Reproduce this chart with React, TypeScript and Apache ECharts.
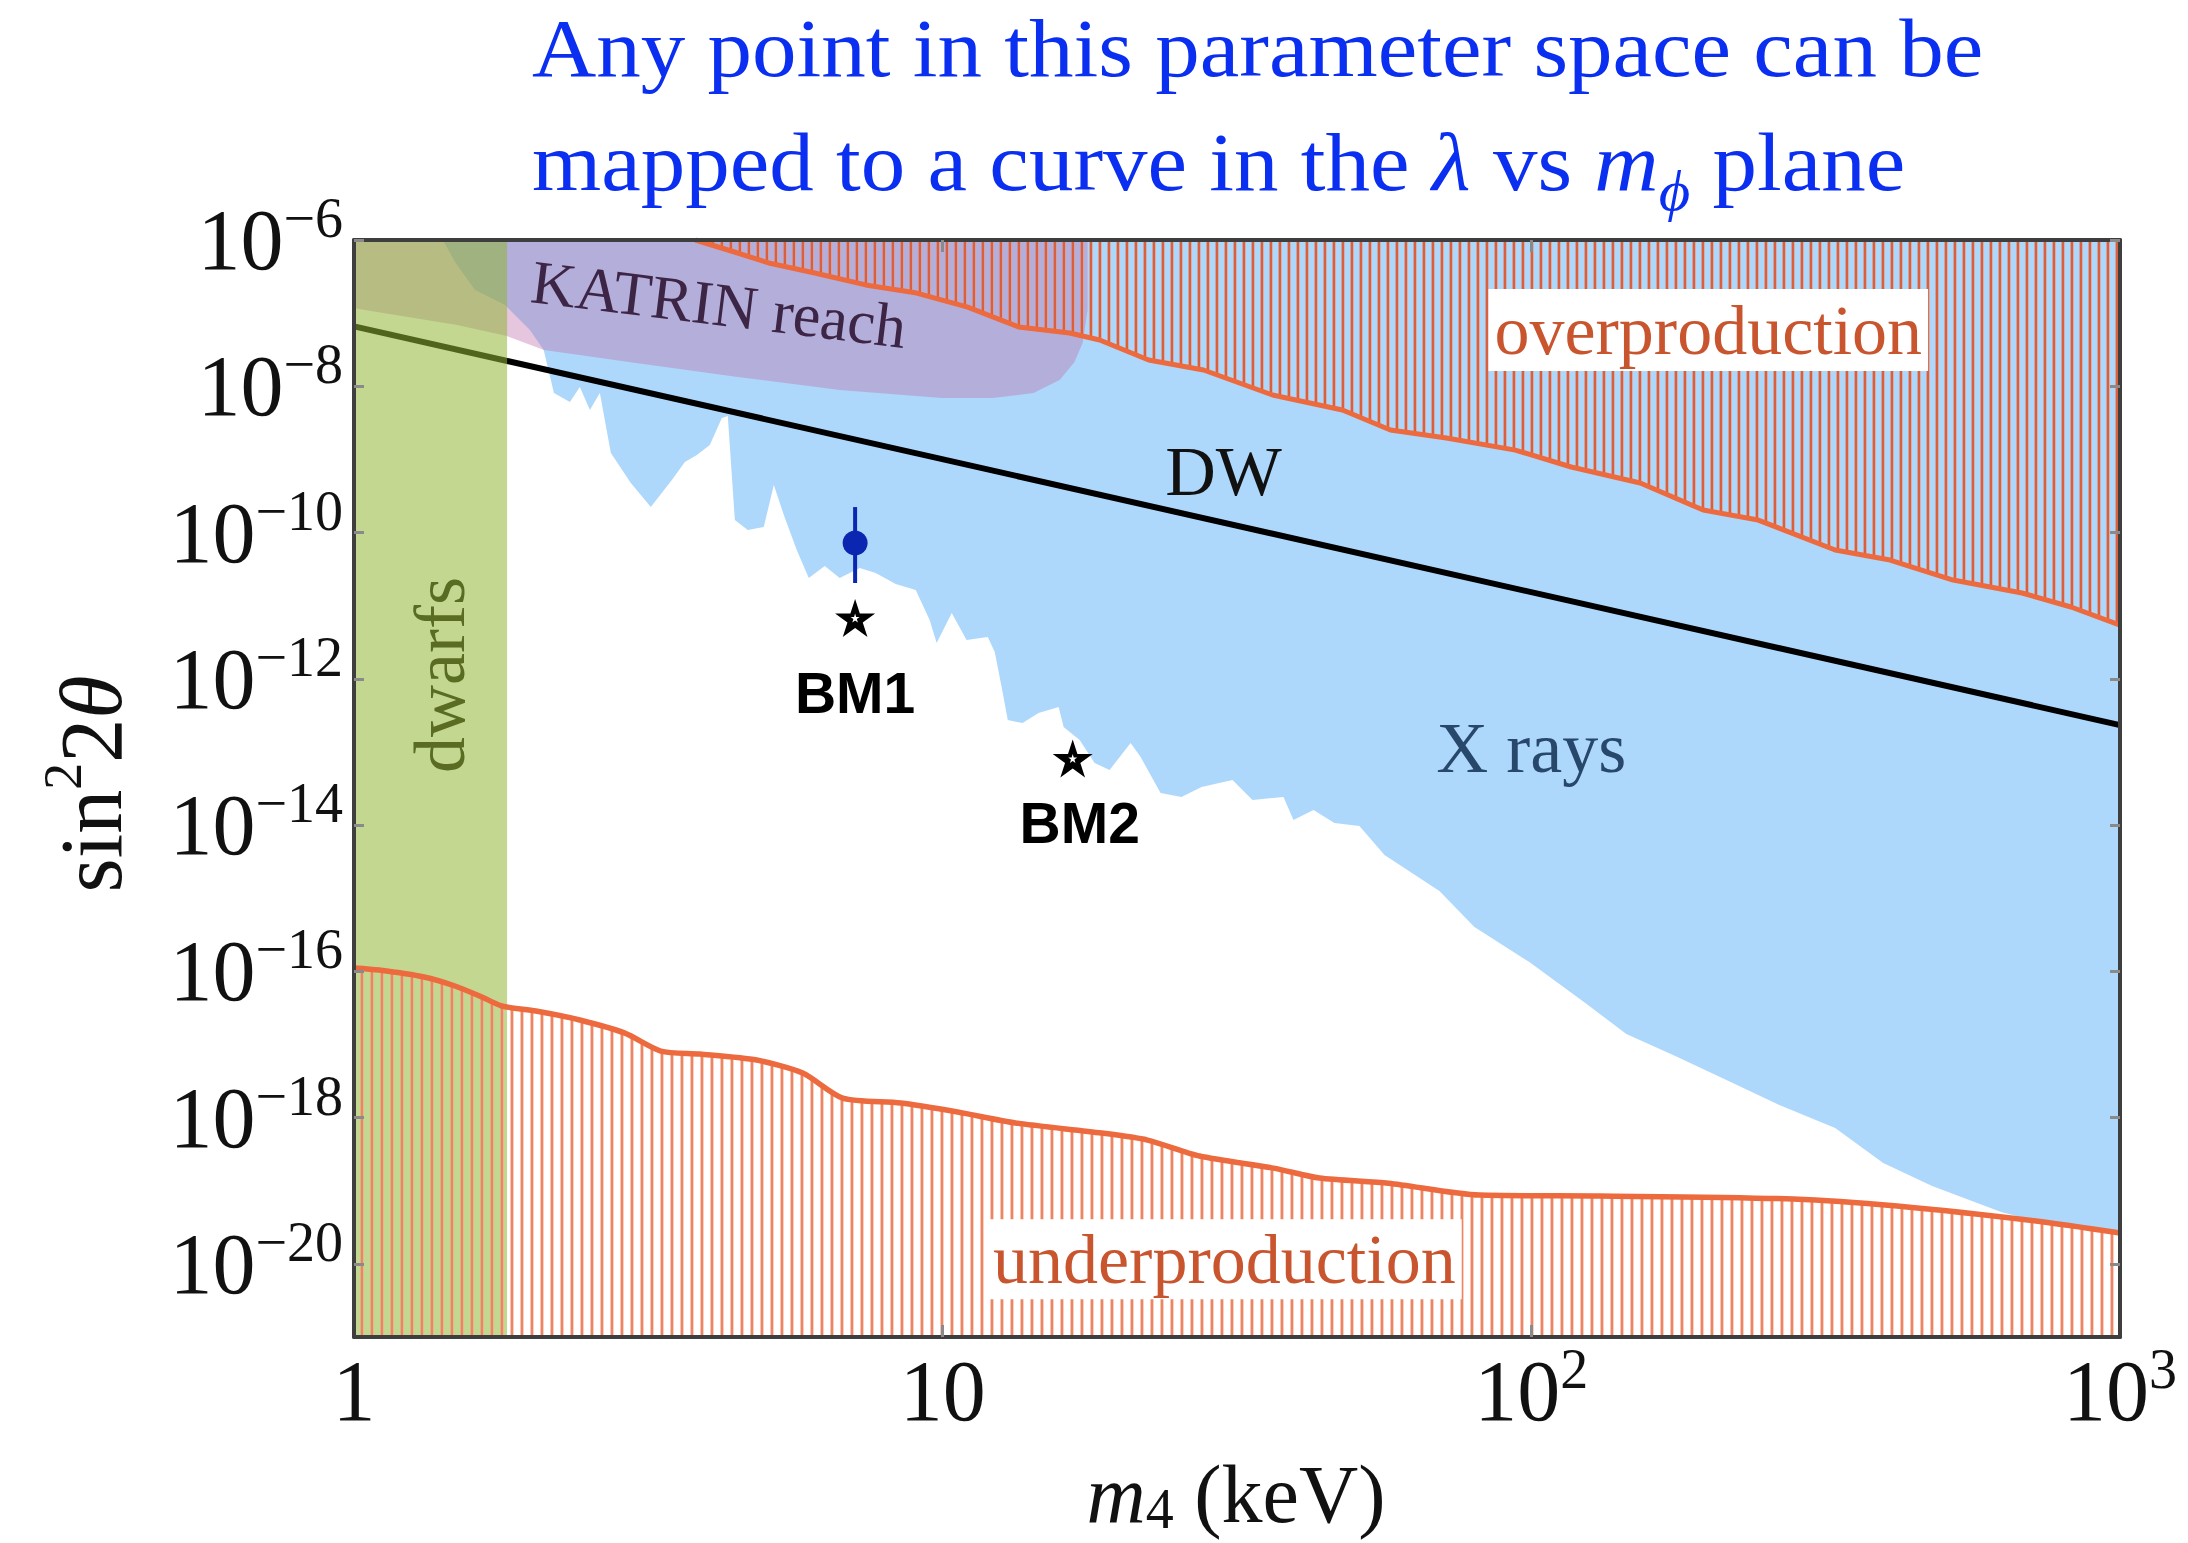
import React, { useEffect, useRef } from 'react';
import * as echarts from 'echarts';

const SERIF = "'Liberation Serif', 'Times New Roman', Times, serif";
const SANS = "'Liberation Sans', Arial, Helvetica, sans-serif";

// Axis ranges: sterile-neutrino mass m4 (keV) and mixing sin^2(2θ)
const xRange = [1, 1000];
const yRange = [1e-21, 1e-6];

// Tick and label positions
const xLabelValues = [1, 10, 100, 1000];
const xTickValues = [10, 100];
const yTickValues = [1e-20, 1e-18, 1e-16, 1e-14, 1e-12, 1e-10, 1e-8, 1e-6];

// Dodelson–Widrow production line
const dwLine = [
  [1, 6.59e-8],
  [1000, 2.33e-13],
];

// Lower edge of the X-ray exclusion (excluded above)
const xrayEdge = [
  [2.1, 3.13e-8], [2.186, 8.09e-9], [2.327, 6.09e-9], [2.419, 9.77e-9], [2.516, 4.73e-9],
  [2.616, 8.09e-9], [2.731, 1.22e-9], [2.953, 4.75e-10], [3.193, 2.23e-10], [3.467, 5.22e-10],
  [3.648, 9.2e-10], [3.823, 1.15e-9], [4.022, 1.57e-9], [4.216, 3.68e-9], [4.315, 3.92e-9],
  [4.436, 1.48e-10], [4.666, 1.08e-10], [4.967, 1.19e-10], [5.166, 4.47e-10], [5.372, 1.74e-10],
  [5.651, 5.77e-11], [5.923, 2.39e-11], [6.305, 3.48e-11], [6.684, 2.39e-11], [7.23, 3.27e-11],
  [7.695, 2.8e-11], [8.322, 1.98e-11], [9.0, 1.64e-11], [9.504, 6.37e-12], [9.768, 3.08e-12],
  [10.36, 7.94e-12], [10.98, 3.39e-12], [11.93, 3.72e-12], [12.26, 2.32e-12], [12.65, 6.4e-13],
  [12.9, 2.73e-13], [13.67, 2.48e-13], [14.55, 3.4e-13], [15.74, 4.11e-13], [16.05, 2.19e-13],
  [17.09, 1.46e-13], [18.12, 7.05e-14], [19.21, 5.66e-14], [20.86, 1.32e-13], [21.69, 8.53e-14],
  [23.45, 2.74e-14], [25.45, 2.42e-14], [27.53, 3.31e-14], [31.07, 4.13e-14], [33.6, 2.2e-14],
  [37.93, 2.42e-14], [39.44, 1.17e-14], [42.65, 1.61e-14], [46.29, 1.07e-14], [51.05, 9.7e-15],
  [56.3, 3.89e-15], [69.8, 1.25e-15], [80.04, 4.04e-16], [99.22, 1.34e-16], [123.5, 3.69e-17],
  [145.0, 1.39e-17], [175.6, 6.95e-18], [212.7, 3.37e-18], [263.8, 1.49e-18], [328.2, 7.2e-19],
  [396.0, 2.39e-19], [479.6, 1.16e-19], [628.1, 5.12e-20], [720.1, 3.85e-20], [1000, 2.64e-20],
];

// Upper-left edge of the X-ray exclusion (runs from the plot top down to the jagged edge)
const xrayLeftEdge = [
  [1.416, 1e-6], [1.484, 5.0e-7], [1.605, 2.07e-7], [1.805, 1.29e-7], [1.99, 5.87e-8],
];

// Overproduction bound (excluded above)
const overEdge = [
  [3.8, 1e-6], [4.487, 6.64e-7], [5.065, 4.85e-7], [6.063, 3.54e-7], [7.4, 2.43e-7],
  [9.035, 1.88e-7], [11.03, 1.21e-7], [13.46, 6.46e-8], [16.43, 5.35e-8], [18.48, 4.29e-8],
  [22.38, 2.29e-8], [27.74, 1.67e-8], [36.34, 7.6e-9], [47.76, 4.73e-9], [57.63, 2.52e-9],
  [71.73, 1.96e-9], [93.93, 1.34e-9], [116.9, 7.87e-10], [153.1, 4.75e-10], [195.9, 2.03e-10],
  [242.9, 1.48e-10], [328.2, 5.77e-11], [406.8, 4.21e-11], [520.6, 2.24e-11], [681.8, 1.49e-11],
  [825.6, 9.59e-12], [1000, 5.43e-12],
];

// Underproduction bound (excluded below)
const underEdge = [
  [1, 1.11e-16], [1.103, 1.04e-16], [1.315, 8.36e-17], [1.484, 6.3e-17], [1.649, 4.46e-17],
  [1.783, 3.36e-17], [2.037, 2.87e-17], [2.419, 2.16e-17], [2.885, 1.43e-17], [3.32, 8.13e-18],
  [3.868, 7.4e-18], [4.833, 6.12e-18], [5.785, 4.07e-18], [6.764, 1.85e-18], [8.486, 1.58e-18],
  [10.6, 1.19e-18], [13.3, 8.43e-19], [18.62, 6.15e-19], [22.28, 4.93e-19], [27.31, 2.98e-19],
  [36.48, 2.04e-19], [43.65, 1.49e-19], [57.19, 1.27e-19], [81.62, 8.73e-20], [130.5, 8.47e-20],
  [278.5, 7.71e-20], [418.1, 6.18e-20], [720.1, 3.85e-20], [1000, 2.64e-20],
];

// KATRIN/TRISTAN projected reach
const katrinRegion = [
  [1, 1e-6], [1, 1.17e-7], [1.496, 6.89e-8], [1.819, 4.86e-8], [2.102, 3.13e-8],
  [3.012, 2.08e-8], [4.487, 1.34e-8], [6.684, 8.89e-9], [9.961, 6.92e-9], [12.16, 6.92e-9],
  [14.27, 8.09e-9], [15.8, 1.22e-8], [16.75, 2.15e-8], [17.29, 3.91e-8], [17.63, 1.1e-7],
  [17.63, 1e-6],
];

// Dwarf-galaxy phase-space bound on m4 (keV)
const dwarfsBound = 1.82;

// Benchmark points and the 3.5 keV line
const bmNames = ['BM1', 'BM2'];
const bmPoints = [
  [7.1, 6.78e-12],
  [16.63, 8.13e-14],
];
const bmLabelAt = [
  [7.1, 6.4e-13],
  [17.09, 1.07e-14],
];
const lineCenter = [[7.1, 7.2e-11]];
const lineErrorBar = [
  [7.1, 2.23e-10],
  [7.1, 2.04e-11],
];

// Region labels
const regionLabels = [
  { text: 'KATRIN reach', at: [4.17, 1.33e-7] },
  { text: 'overproduction', at: [199.8, 5.87e-8] },
  { text: 'underproduction', at: [30.1, 1.16e-20] },
  { text: 'DW', at: [30.0, 6.93e-10] },
  { text: 'X rays', at: [100, 1.13e-13] },
  { text: 'dwarfs', at: [1.4, 1.13e-12] },
];

const COLORS = {
  title: '#0b2ff0',
  xray: '#aed8fb',
  katrin: 'rgba(190,112,172,0.4)',
  dwarfs: 'rgba(145,182,55,0.55)',
  edge: '#ec6a3e',
  frame: '#3e3e3e',
  tick: '#8a8a8a',
  point: '#0b27b2',
};

const STAR =
  'path://M50 0L61.2 34.5L97.6 34.5L68.2 55.9L79.4 90.5L50 69.1L20.6 90.5L31.8 55.9L2.4 34.5L38.8 34.5Z';

function stripePattern(period: number, stripes: [number, number, string][]) {
  const c = document.createElement('canvas');
  c.width = period;
  c.height = 10;
  const ctx = c.getContext('2d')!;
  for (const [x, w, col] of stripes) {
    ctx.fillStyle = col;
    ctx.fillRect(x, 0, w, 10);
  }
  return { image: c, repeat: 'repeat', imageWidth: period, imageHeight: 10 };
}

function regionSeries(name: string, pts: number[][], fill: any, z: number) {
  return {
    type: 'custom',
    name,
    z,
    silent: true,
    clip: true,
    coordinateSystem: 'cartesian2d',
    encode: { x: 0, y: 1 },
    data: pts,
    renderItem: (params: any, api: any) => {
      if (params.dataIndex !== 0) return null;
      return {
        type: 'polygon',
        shape: { points: pts.map((p) => api.coord(p)) },
        style: { fill },
      };
    },
  };
}

function powLabel(v: number) {
  const e = Math.round(Math.log10(v));
  if (e === 0) return '{b|1}';
  if (e === 1) return '{b|10}';
  return '{b|10}{e|' + (e < 0 ? '\u2212' : '') + Math.abs(e) + '}';
}

const labelRich = {
  b: { fontFamily: SERIF, fontSize: 86, lineHeight: 96, verticalAlign: 'middle', color: '#111' },
  e: {
    fontFamily: SERIF,
    fontSize: 56,
    lineHeight: 96,
    verticalAlign: 'middle',
    padding: [0, 0, 44, 0],
    color: '#111',
  },
};

const regionLabelStyle: Record<string, any> = {
  'KATRIN reach': { fontSize: 62, color: '#3d2545', rotate: -7 },
  overproduction: { fontSize: 70, color: '#c9552f', backgroundColor: '#ffffff', padding: [5, 6, 7, 6] },
  underproduction: { fontSize: 70, color: '#c9552f', backgroundColor: '#ffffff', padding: [5, 6, 5, 6] },
  DW: { fontSize: 70, color: '#111111' },
  'X rays': { fontSize: 72, color: '#27486b' },
  dwarfs: { fontSize: 72, color: '#5a6b22', rotate: 90 },
};

// Invisible anchor symbols that only carry text
const anchorItem = { color: 'rgba(0,0,0,0)', opacity: 1 };

export default function App() {
  const ref = useRef<HTMLDivElement>(null);

  useEffect(() => {
    const el = ref.current;
    if (!el) return;
    const chart = echarts.init(el, null, { renderer: 'svg' });

    const overHatch = stripePattern(9, [
      [0, 1, 'rgba(226,120,95,0.55)'],
      [1, 2, '#da5f3a'],
      [3, 1, 'rgba(232,150,130,0.6)'],
    ]);
    const underHatch = stripePattern(10, [
      [0, 1, 'rgba(240,150,120,0.55)'],
      [1, 2, '#ec8662'],
      [3, 1, 'rgba(244,170,145,0.55)'],
    ]);

    const xrayPolygon = [...xrayEdge, [xRange[1], yRange[1]], ...xrayLeftEdge];
    const overPolygon = [...overEdge, [xRange[1], yRange[1]]];
    const underPolygon = [...underEdge, [xRange[1], yRange[0]], [xRange[0], yRange[0]]];
    const dwarfsPolygon = [
      [xRange[0], yRange[0]],
      [dwarfsBound, yRange[0]],
      [dwarfsBound, yRange[1]],
      [xRange[0], yRange[1]],
    ];

    const baseX = {
      type: 'log',
      logBase: 10,
      min: xRange[0],
      max: xRange[1],
      z: 12,
      axisLine: { show: true, onZero: false, lineStyle: { color: COLORS.frame, width: 4 } },
      axisTick: {
        show: true,
        inside: true,
        length: 12,
        customValues: xTickValues,
        lineStyle: { color: COLORS.tick, width: 3 },
      },
      minorTick: { show: false },
      splitLine: { show: false },
    };
    const baseY = {
      type: 'log',
      logBase: 10,
      min: yRange[0],
      max: yRange[1],
      z: 12,
      axisLine: { show: true, onZero: false, lineStyle: { color: COLORS.frame, width: 4 } },
      axisTick: {
        show: true,
        inside: true,
        length: 10,
        customValues: yTickValues,
        lineStyle: { color: COLORS.tick, width: 3 },
      },
      minorTick: { show: false },
      splitLine: { show: false },
    };

    const option: any = {
      animation: false,
      backgroundColor: '#ffffff',
      grid: { left: 354, top: 240, right: 68, bottom: 206, containLabel: false, outerBoundsMode: 'none' },
      xAxis: [
        {
          ...baseX,
          position: 'bottom',
          axisLabel: {
            show: true,
            customValues: xLabelValues,
            margin: 6,
            showMinLabel: true,
            showMaxLabel: true,
            formatter: powLabel,
            rich: labelRich,
          },
        },
        { ...baseX, position: 'top', axisLabel: { show: false } },
      ],
      yAxis: [
        {
          ...baseY,
          position: 'left',
          axisLabel: {
            show: true,
            customValues: yTickValues,
            margin: 11,
            showMinLabel: true,
            showMaxLabel: true,
            formatter: (v: number) => {
              const e = Math.round(Math.log10(v));
              return e % 2 === 0 ? powLabel(v) : '';
            },
            rich: labelRich,
          },
        },
        { ...baseY, position: 'right', axisLabel: { show: false } },
      ],
      series: [
        regionSeries('X rays', xrayPolygon, COLORS.xray, 1),
        regionSeries('KATRIN reach', katrinRegion, COLORS.katrin, 2),
        {
          type: 'line',
          name: 'DW',
          data: dwLine,
          symbol: 'none',
          silent: true,
          clip: true,
          lineStyle: { color: '#000', width: 6 },
          z: 3,
        },
        regionSeries('dwarfs', dwarfsPolygon, COLORS.dwarfs, 4),
        regionSeries('overproduction', overPolygon, overHatch, 5),
        regionSeries('underproduction', underPolygon, underHatch, 5),
        {
          type: 'line',
          name: 'overproduction bound',
          data: overEdge,
          symbol: 'none',
          silent: true,
          clip: true,
          lineStyle: { color: COLORS.edge, width: 5 },
          z: 6,
        },
        {
          type: 'line',
          name: 'underproduction bound',
          data: underEdge,
          symbol: 'none',
          smooth: 0.25,
          silent: true,
          clip: true,
          lineStyle: { color: COLORS.edge, width: 5.5, join: 'round' },
          z: 6,
        },
        {
          type: 'line',
          name: '3.5 keV error',
          data: lineErrorBar,
          symbol: 'none',
          silent: true,
          lineStyle: { color: COLORS.point, width: 4 },
          z: 7,
        },
        {
          type: 'scatter',
          name: '3.5 keV line',
          data: lineCenter,
          symbol: 'circle',
          symbolSize: 25,
          silent: true,
          itemStyle: { color: COLORS.point, opacity: 1 },
          z: 7,
        },
        {
          type: 'scatter',
          name: 'benchmarks',
          data: bmPoints,
          symbol: STAR,
          symbolSize: [40, 38],
          silent: true,
          itemStyle: { color: '#000', opacity: 1 },
          z: 8,
        },
        {
          type: 'scatter',
          name: 'benchmark centres',
          data: bmPoints,
          symbol: STAR,
          symbolSize: 9,
          silent: true,
          itemStyle: { color: '#fff', opacity: 1 },
          z: 9,
        },
        {
          type: 'scatter',
          name: 'benchmark names',
          data: bmLabelAt.map((p, i) => ({
            value: p,
            label: { formatter: bmNames[i] },
          })),
          symbolSize: 1,
          silent: true,
          itemStyle: anchorItem,
          label: {
            show: true,
            position: 'inside',
            fontFamily: SANS,
            fontWeight: 'bold',
            fontSize: 57,
            color: '#000',
            opacity: 1,
            textBorderWidth: 0,
          },
          z: 10,
        },
        {
          type: 'scatter',
          name: 'region names',
          data: regionLabels.map((r) => ({
            value: r.at,
            label: { formatter: r.text, ...regionLabelStyle[r.text] },
          })),
          symbolSize: 1,
          silent: true,
          itemStyle: anchorItem,
          label: {
            show: true,
            position: 'inside',
            fontFamily: SERIF,
            opacity: 1,
            textBorderWidth: 0,
          },
          z: 10,
        },
      ],
      graphic: [
        {
          type: 'text',
          x: 532,
          y: 49,
          scaleX: 1.086,
          silent: true,
          style: {
            text: 'Any point in this parameter space can be',
            fontFamily: SERIF,
            fontSize: 82,
            fill: COLORS.title,
            align: 'left',
            verticalAlign: 'middle',
          },
        },
        {
          type: 'text',
          x: 532,
          y: 163,
          scaleX: 1.086,
          silent: true,
          style: {
            text: 'mapped to a curve in the {it|\u03bb} vs {it|m}{sub|\u03d5} plane',
            fontFamily: SERIF,
            fontSize: 82,
            lineHeight: 96,
            fill: COLORS.title,
            align: 'left',
            verticalAlign: 'middle',
            rich: {
              it: { fontFamily: SERIF, fontSize: 82, fontStyle: 'italic', lineHeight: 96 },
              sub: {
                fontFamily: SERIF,
                fontSize: 56,
                fontStyle: 'italic',
                lineHeight: 96,
                verticalAlign: 'middle',
                padding: [56, 0, 0, 0],
              },
            },
          },
        },
        {
          type: 'text',
          x: 91,
          y: 784,
          rotation: Math.PI / 2,
          silent: true,
          style: {
            text: 'sin{sup|2}2{it|\u03b8}',
            fontFamily: SERIF,
            fontSize: 88,
            lineHeight: 100,
            fill: '#111',
            align: 'center',
            verticalAlign: 'middle',
            rich: {
              sup: {
                fontFamily: SERIF,
                fontSize: 54,
                lineHeight: 100,
                verticalAlign: 'middle',
                padding: [0, 0, 57, 0],
              },
              it: { fontFamily: SERIF, fontSize: 88, fontStyle: 'italic', lineHeight: 100 },
            },
          },
        },
        {
          type: 'text',
          x: 1236,
          y: 1494,
          silent: true,
          style: {
            text: '{it|m}{sub|4} (keV)',
            fontFamily: SERIF,
            fontSize: 82,
            lineHeight: 96,
            fill: '#111',
            align: 'center',
            verticalAlign: 'middle',
            rich: {
              it: { fontFamily: SERIF, fontSize: 82, fontStyle: 'italic', lineHeight: 96 },
              sub: {
                fontFamily: SERIF,
                fontSize: 56,
                lineHeight: 96,
                verticalAlign: 'middle',
                padding: [30, 0, 0, 0],
              },
            },
          },
        },
      ],
    };

    chart.setOption(option);
    return () => chart.dispose();
  }, []);

  return (
    <div
      ref={ref}
      style={{ position: 'fixed', left: 0, top: 0, width: 2188, height: 1543, background: '#ffffff' }}
    />
  );
}
